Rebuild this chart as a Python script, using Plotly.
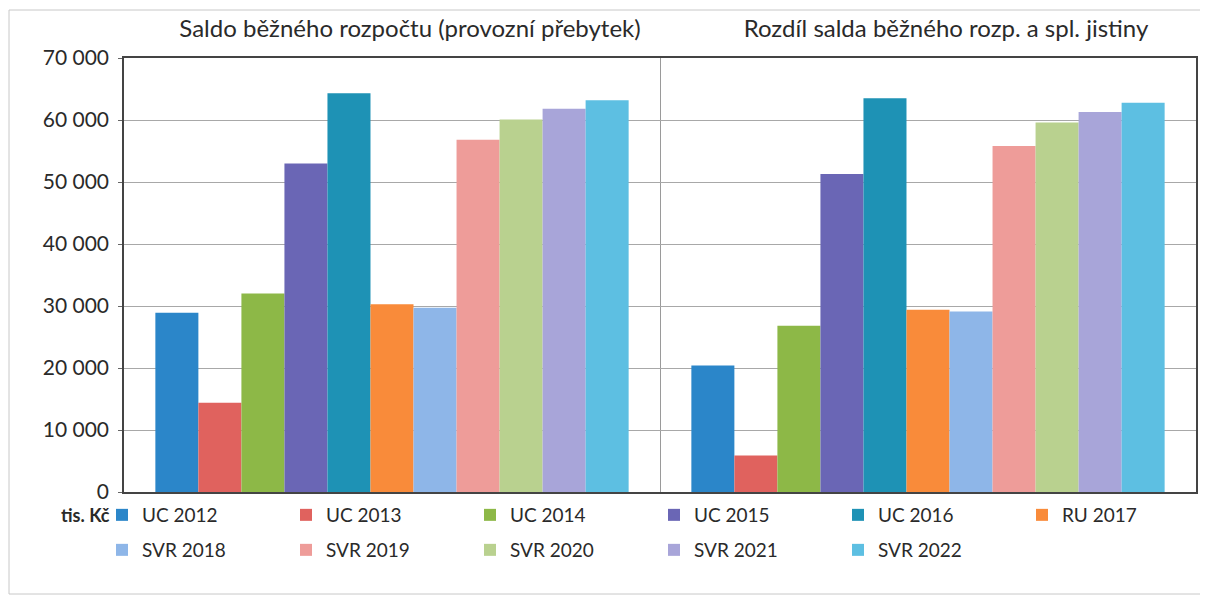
import plotly.graph_objects as go

categories = ["Saldo běžného rozpočtu (provozní přebytek)",
              "Rozdíl salda běžného rozp. a spl. jistiny"]
series_names = ["UC 2012", "UC 2013", "UC 2014", "UC 2015", "UC 2016", "RU 2017",
                "SVR 2018", "SVR 2019", "SVR 2020", "SVR 2021", "SVR 2022"]
saldo = [28900, 14400, 32000, 53000, 64300, 30300, 29700, 56800, 60100, 61800, 63200]
rozdil = [20400, 5900, 26800, 51300, 63500, 29400, 29100, 55800, 59600, 61300, 62800]
colors = ["#2B86C9", "#E0625E", "#8DB847", "#6A66B5", "#1E92B5", "#F98B3A",
          "#8EB6E8", "#EE9C99", "#B9D18F", "#A8A5D9", "#5DBFE2"]
y_ticks = [0, 10000, 20000, 30000, 40000, 50000, 60000, 70000]
unit_label = "tis. Kč"

# page has an 8px body margin; work in page pixels and convert
OFF = 8
W, H = 1200, 607
L, T = 124 - OFF, 58 - OFF
pw, ph = 1072, 434
R, B = W - L - pw, H - T - ph


def px(xpage):
    return (xpage - OFF - L) / pw


def py(ypage):
    return (T + ph - (ypage - OFF)) / ph


fig = go.Figure()
for i, name in enumerate(series_names):
    fig.add_trace(go.Bar(
        x=categories, y=[saldo[i], rozdil[i]], name=name,
        marker=dict(color=colors[i], line=dict(width=0)),
        legend="legend" if i < 6 else "legend2",
    ))

font = "Lato, 'Open Sans', sans-serif"
leg_common = dict(orientation="h", xanchor="left", yanchor="middle",
                  entrywidth=139, entrywidthmode="pixels",
                  font=dict(family=font, size=19, color="#2a2a2a"),
                  itemwidth=30, bgcolor="rgba(0,0,0,0)", traceorder="normal")

fig.update_layout(
    width=W, height=H,
    margin=dict(l=L, r=R, t=T, b=B, autoexpand=False),
    paper_bgcolor="white", plot_bgcolor="white",
    separators=", ",
    barmode="group", bargap=0.117, bargroupgap=0,
    font=dict(family=font, color="#2a2a2a"),
    legend=dict(x=px(102), y=py(515), **leg_common),
    legend2=dict(x=px(102), y=py(550), **leg_common),
    xaxis=dict(side="top", tickson="boundaries", showgrid=True, automargin=False,
               gridcolor="#9a9a9a", gridwidth=1, ticks="",
               tickfont=dict(family=font, size=24, color="#2a2a2a"),
               ticklabelstandoff=10, ticklabelshift=18,
               showline=True, linecolor="#444444", linewidth=1.5, mirror=True),
    yaxis=dict(range=[0, 70000], tickvals=y_ticks, tickformat=",d", automargin=False,
               showgrid=True, gridcolor="#a8a8a8", gridwidth=1,
               tickfont=dict(family=font, size=21, color="#2a2a2a"),
               ticks="outside", ticklen=4, tickcolor="#666666",
               ticklabelstandoff=5,
               showline=True, linecolor="#444444", linewidth=1.5, mirror=True,
               zeroline=False),
    showlegend=True,
)

fig.add_annotation(text="<b>" + unit_label + "</b>", xref="paper", yref="paper",
                   x=px(112), y=py(515),
                   xanchor="right", yanchor="middle", showarrow=False,
                   font=dict(family=font, size=18, color="#2a2a2a"))

fig.add_shape(type="rect", xref="paper", yref="paper",
              x0=px(9), x1=px(1204), y0=py(594), y1=py(10),
              line=dict(color="#c8c8c8", width=1), fillcolor="rgba(0,0,0,0)",
              layer="below")

fig.write_html("out.html")
